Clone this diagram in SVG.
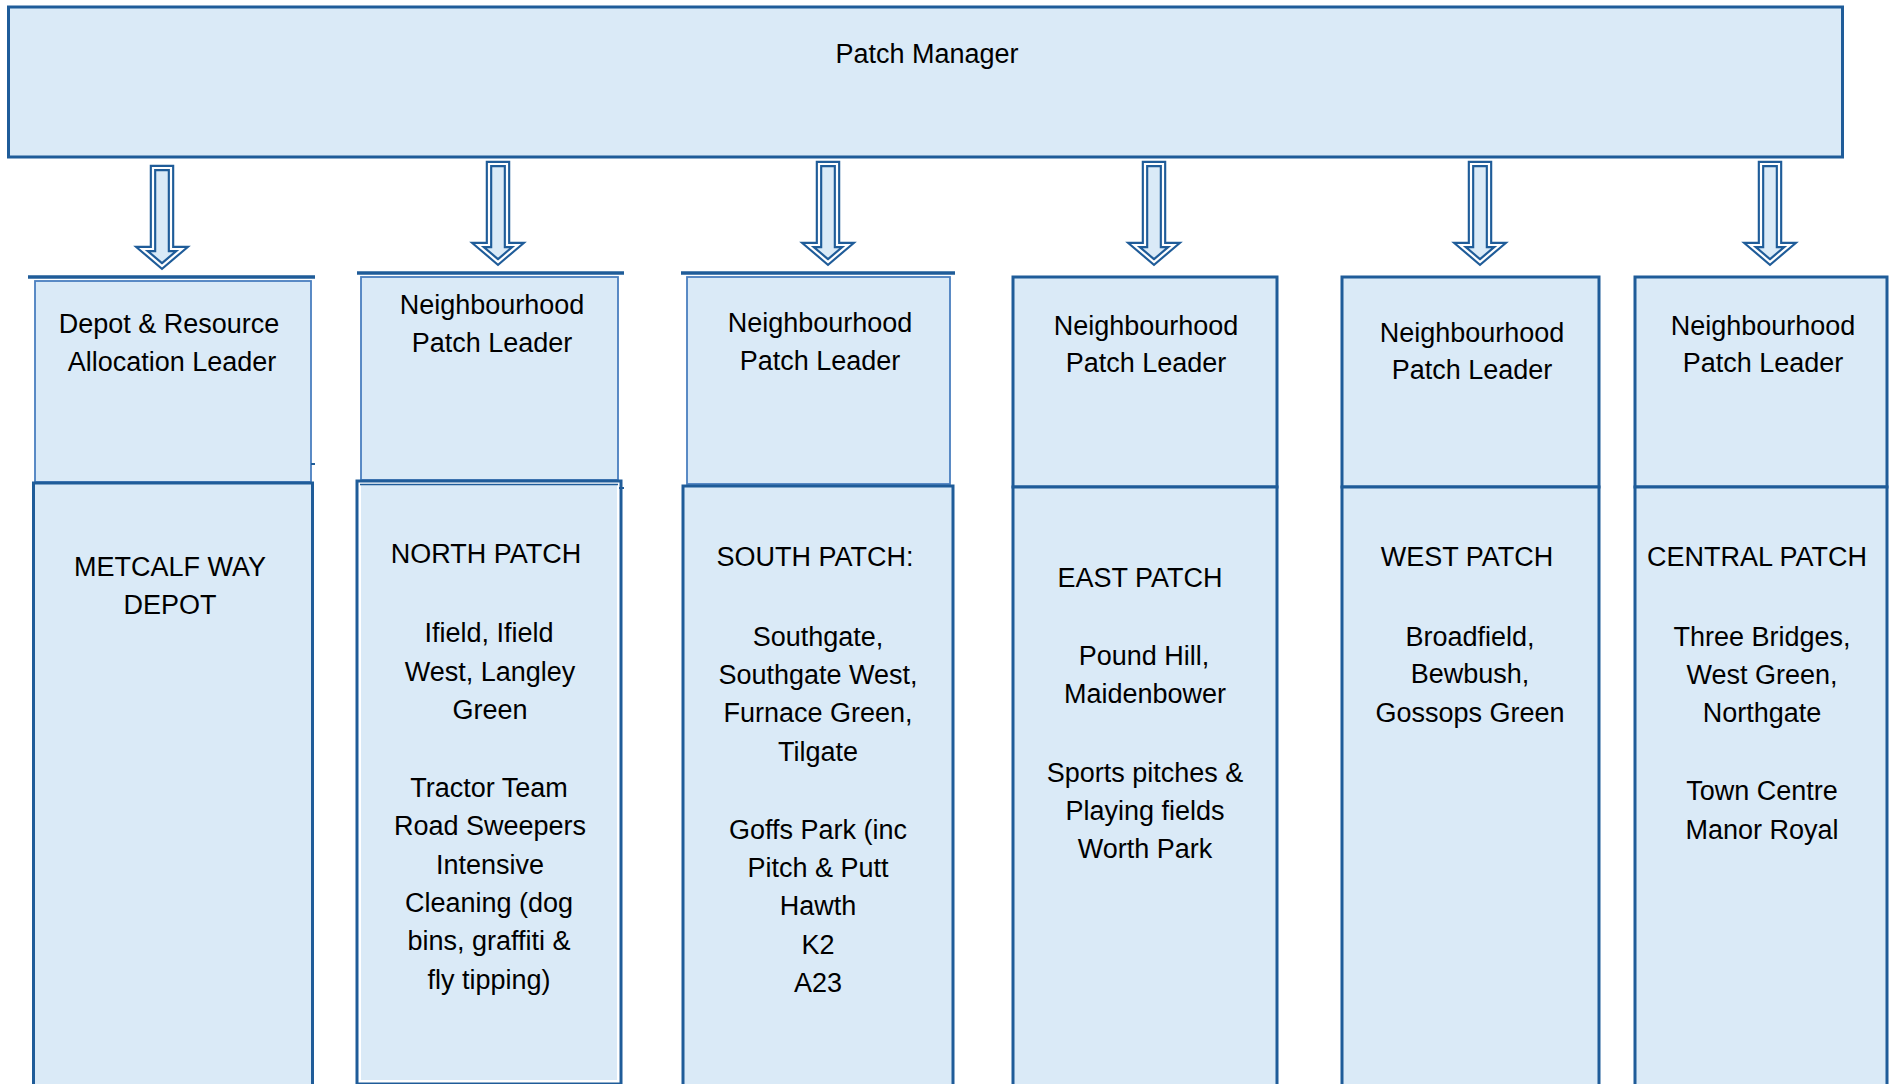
<svg xmlns="http://www.w3.org/2000/svg" width="1892" height="1084" viewBox="0 0 1892 1084">
<style>
.bg{fill:#ffffff}
.box{fill:#DAEAF7;stroke:#1F5C99;stroke-width:3}
.thin{fill:#DAEAF7;stroke:#4A7FBF;stroke-width:1.8}
.bar{stroke:#1F5C99;stroke-width:3.5;fill:none}
.arrO{fill:#DAEAF7;stroke:#1F5C99;stroke-width:6.5;stroke-linejoin:miter}
.arrI{fill:none;stroke:#ffffff;stroke-width:2.2;stroke-linejoin:miter}
text{font-family:"Liberation Sans",Arial,sans-serif;font-size:27px;fill:#000;text-anchor:middle}
</style>
<rect class="bg" x="0" y="0" width="1892" height="1084"/>

<g id="patch-manager">
<rect class="box" x="8.5" y="7" width="1834" height="150"/>
<text x="927" y="63">Patch Manager</text>
</g>

<g id="connectors">
<path class="arrO" d="M153,168 H171 V249 H182 L162,266 L142,249 H153 Z"/>
<path class="arrI" d="M153,168 H171 V249 H182 L162,266 L142,249 H153 Z"/>
<path class="arrO" d="M489,164 H507 V245 H518 L498,262 L478,245 H489 Z"/>
<path class="arrI" d="M489,164 H507 V245 H518 L498,262 L478,245 H489 Z"/>
<path class="arrO" d="M819,164 H837 V245 H848 L828,262 L808,245 H819 Z"/>
<path class="arrI" d="M819,164 H837 V245 H848 L828,262 L808,245 H819 Z"/>
<path class="arrO" d="M1145,164 H1163 V245 H1174 L1154,262 L1134,245 H1145 Z"/>
<path class="arrI" d="M1145,164 H1163 V245 H1174 L1154,262 L1134,245 H1145 Z"/>
<path class="arrO" d="M1471,164 H1489 V245 H1500 L1480,262 L1460,245 H1471 Z"/>
<path class="arrI" d="M1471,164 H1489 V245 H1500 L1480,262 L1460,245 H1471 Z"/>
<path class="arrO" d="M1761,164 H1779 V245 H1790 L1770,262 L1750,245 H1761 Z"/>
<path class="arrI" d="M1761,164 H1779 V245 H1790 L1770,262 L1750,245 H1761 Z"/>
</g>

<g id="depot-leader">
<line class="bar" x1="28" y1="277" x2="315" y2="277"/>
<rect class="thin" x="35" y="281" width="276" height="201"/>
<line class="bar" x1="311" y1="464" x2="315" y2="464" style="stroke-width:2"/>
<text x="169" y="333">Depot &amp; Resource</text>
<text x="172" y="371">Allocation Leader</text>
</g>
<g id="depot-area">
<rect class="box" x="33.5" y="483" width="279" height="610"/>
<text x="170" y="576">METCALF WAY</text>
<text x="170" y="614">DEPOT</text>
</g>

<g id="north-leader">
<line class="bar" x1="357" y1="273" x2="624" y2="273"/>
<rect class="thin" x="361" y="277" width="257" height="203"/>
<text x="492" y="314">Neighbourhood</text>
<text x="492" y="352">Patch Leader</text>
</g>
<g id="north-area">
<rect x="357" y="481" width="264" height="603" fill="#ffffff" stroke="#1F5C99" stroke-width="3"/>
<rect x="361" y="485" width="256" height="595" fill="#DAEAF7"/>
<line x1="360" y1="484.5" x2="618" y2="484.5" stroke="#1F5C99" stroke-width="1.5"/>
<line class="bar" x1="619" y1="488" x2="624" y2="488" style="stroke-width:2"/>
<text x="486" y="563">NORTH PATCH</text>
<text x="489" y="642">Ifield, Ifield</text>
<text x="490" y="681">West, Langley</text>
<text x="490" y="719">Green</text>
<text x="489" y="797">Tractor Team</text>
<text x="490" y="835">Road Sweepers</text>
<text x="490" y="874">Intensive</text>
<text x="489" y="912">Cleaning (dog</text>
<text x="489" y="950">bins, graffiti &amp;</text>
<text x="489" y="989">fly tipping)</text>
</g>

<g id="south-leader">
<line class="bar" x1="681" y1="273" x2="955" y2="273"/>
<rect class="thin" x="687" y="277" width="263" height="207"/>
<text x="820" y="332">Neighbourhood</text>
<text x="820" y="370">Patch Leader</text>
</g>
<g id="south-area">
<rect class="box" x="683" y="486" width="270" height="607"/>
<text x="815" y="566">SOUTH PATCH:</text>
<text x="818" y="646">Southgate,</text>
<text x="818" y="684">Southgate West,</text>
<text x="818" y="722">Furnace Green,</text>
<text x="818" y="761">Tilgate</text>
<text x="818" y="839">Goffs Park (inc</text>
<text x="818" y="877">Pitch &amp; Putt</text>
<text x="818" y="915">Hawth</text>
<text x="818" y="954">K2</text>
<text x="818" y="992">A23</text>
</g>

<g id="east-leader">
<rect class="box" x="1013" y="277" width="264" height="210"/>
<text x="1146" y="335">Neighbourhood</text>
<text x="1146" y="372">Patch Leader</text>
</g>
<g id="east-area">
<rect class="box" x="1013" y="487" width="264" height="606"/>
<text x="1140" y="587">EAST PATCH</text>
<text x="1144" y="665">Pound Hill,</text>
<text x="1145" y="703">Maidenbower</text>
<text x="1145" y="782">Sports pitches &amp;</text>
<text x="1145" y="820">Playing fields</text>
<text x="1145" y="858">Worth Park</text>
</g>

<g id="west-leader">
<rect class="box" x="1342" y="277" width="257" height="210"/>
<text x="1472" y="342">Neighbourhood</text>
<text x="1472" y="379">Patch Leader</text>
</g>
<g id="west-area">
<rect class="box" x="1342" y="487" width="257" height="606"/>
<text x="1467" y="566">WEST PATCH</text>
<text x="1470" y="646">Broadfield,</text>
<text x="1470" y="683">Bewbush,</text>
<text x="1470" y="722">Gossops Green</text>
</g>

<g id="central-leader">
<rect class="box" x="1635" y="277" width="252" height="210"/>
<text x="1763" y="335">Neighbourhood</text>
<text x="1763" y="372">Patch Leader</text>
</g>
<g id="central-area">
<rect class="box" x="1635" y="487" width="252" height="606"/>
<text x="1757" y="566">CENTRAL PATCH</text>
<text x="1762" y="646">Three Bridges,</text>
<text x="1762" y="684">West Green,</text>
<text x="1762" y="722">Northgate</text>
<text x="1762" y="800">Town Centre</text>
<text x="1762" y="839">Manor Royal</text>
</g>
</svg>
